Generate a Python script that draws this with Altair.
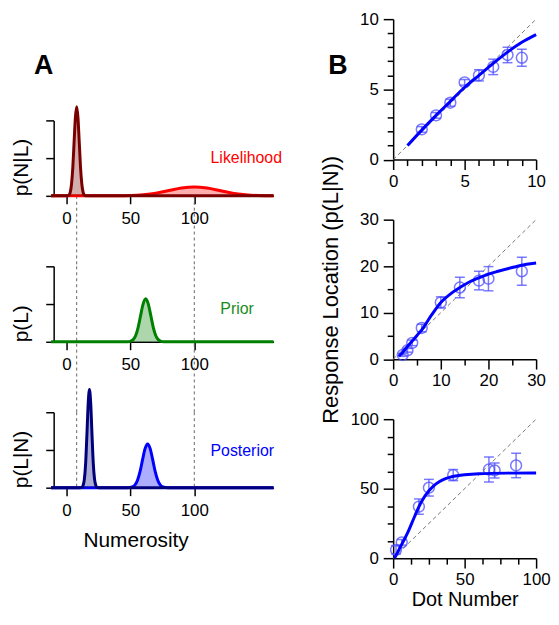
import altair as alt
import pandas as pd

FONT = "Liberation Sans"

# ---------------- Panel A : distributions ----------------
likN_x = [-12, 1, 2, 3, 4, 5, 6, 7, 8, 9, 10, 11, 12, 13, 14, 15, 162]
likN_y = [0, 0, 0.01, 0.05, 0.16, 0.38, 0.72, 1.04, 1.18, 1.04, 0.72, 0.38, 0.16, 0.05, 0.01, 0, 0]

likW_x = [-12, 40, 50, 60, 70, 80, 90, 100, 110, 120, 130, 140, 150, 162]
likW_y = [0, 0, 0.004, 0.015, 0.035, 0.07, 0.104, 0.118, 0.104, 0.07, 0.035, 0.015, 0.004, 0]

prior_x = [-12, 46, 48, 50, 52, 54, 56, 58, 60, 62, 64, 66, 68, 70, 72, 74, 76, 78, 162]
prior_y = [0, 0, 0.001, 0.006, 0.025, 0.077, 0.185, 0.346, 0.503, 0.57, 0.503, 0.346, 0.185, 0.077, 0.025, 0.006, 0.001, 0, 0]

postN_x = [-12, 11, 12, 13, 14, 15, 16, 17, 18, 19, 20, 21, 22, 23, 24, 25, 162]
postN_y = [0, 0, 0.003, 0.03, 0.11, 0.32, 0.70, 1.11, 1.3, 1.11, 0.70, 0.32, 0.11, 0.03, 0.003, 0, 0]

postW_x = [-12, 47.5, 49.5, 51.5, 53.5, 55.5, 57.5, 59.5, 61.5, 63.5, 65.5, 67.5, 69.5, 71.5, 73.5, 75.5, 77.5, 79.5, 162]
postW_y = [0, 0, 0.002, 0.01, 0.034, 0.095, 0.209, 0.368, 0.518, 0.58, 0.518, 0.368, 0.209, 0.095, 0.034, 0.01, 0.002, 0, 0]

guide_x = [8, 100]
numerosity_ticks = [0, 50, 100]
panel_labels = ["Likelihood", "Prior", "Posterior"]
label_pos_x = [112.7, 120.4, 112.7]
label_pos_y = [0.5, 0.43, 0.48]

# ---------------- Panel B : data with error bars + fits ----------------
b1_x = [2, 3, 4, 5, 6, 7, 8, 9]
b1_y = [2.15, 3.15, 4.05, 5.5, 6.0, 6.6, 7.45, 7.25]
b1_e = [0.2, 0.2, 0.25, 0.2, 0.4, 0.55, 0.55, 0.6]
b1_fx = [1, 2, 3, 4, 5, 6, 7, 8, 9, 10]
b1_fy = [1.0, 2.1, 3.15, 4.15, 5.15, 6.0, 6.85, 7.65, 8.35, 8.9]

b2_x = [2, 3, 4, 6, 10, 14, 18, 20, 27]
b2_y = [0.9, 1.9, 3.5, 6.7, 12.2, 15.4, 16.9, 17.3, 18.9]
b2_e = [0.3, 0.4, 0.6, 0.8, 1.2, 2.2, 2.0, 2.6, 3.0]
b2_fx = [1.2, 2, 3, 4, 5, 6, 8, 10, 12, 14, 16, 18, 20, 22, 25, 28, 30]
b2_fy = [0.6, 1.5, 2.7, 3.9, 5.1, 6.3, 9.4, 12.2, 14.0, 15.4, 16.6, 17.5, 18.3, 18.9, 19.7, 20.4, 20.7]

b3_x = [2, 6, 18, 25, 42, 67, 71, 86]
b3_y = [6, 11.4, 37.1, 50.7, 59.8, 63.8, 63.1, 66.7]
b3_e = [3, 2, 5.5, 6, 4, 9, 5.4, 8.8]
b3_fx = [1, 5, 10, 15, 18, 20, 25, 30, 35, 40, 50, 60, 80, 100]
b3_fy = [0, 8, 18, 30, 37, 41, 48.5, 53.5, 56.5, 58.3, 60.0, 60.8, 61.2, 61.3]

# ---------------- layout numbers ----------------
LW, LH = 221.5, 76
LGAP = 71
RW = 144

AX = dict(domainColor="black", domainWidth=1.5, tickColor="black", tickWidth=1.5,
          labelColor="black", labelFont=FONT, labelFontSize=17, titleFont=FONT,
          titleFontWeight="normal", titleColor="black",
          grid=False, labelFlush=False, labelOverlap=False)


def left_x(title):
    return alt.X("x:Q", scale=alt.Scale(domain=[-10, 162], nice=False, zero=False),
                 axis=alt.Axis(values=numerosity_ticks, tickSize=8, labelPadding=7,
                               title=title, titleX=82.5, titlePadding=11, titleFontSize=21, **AX))


def left_y(title):
    return alt.Y("y:Q", scale=alt.Scale(domain=[0, 1], nice=False),
                 axis=alt.Axis(values=[0, 0.5, 1], tickSize=8, labels=False,
                               title=title, titleAnchor="start", titlePadding=14,
                               titleFontSize=21, **AX))


def dist(xs, ys, color, xt, yt):
    df = pd.DataFrame({"x": xs, "y": ys})
    base = alt.Chart(df)
    area = base.mark_area(color=color, opacity=0.32, interpolate="monotone").encode(
        x=left_x(xt), y=left_y(yt))
    line = base.mark_line(color=color, strokeWidth=3, interpolate="monotone").encode(
        x=left_x(xt), y=left_y(yt))
    return [area, line]


def guides(y_top, y_bot, xt, yt):
    df = pd.DataFrame({"x": guide_x, "y": [y_top] * 2, "y2": [y_bot] * 2})
    return alt.Chart(df).mark_rule(color="#666666", strokeDash=[3, 3], strokeWidth=1).encode(
        x=left_x(xt), y=left_y(yt), y2="y2:Q")


def label(i, color, xt, yt):
    df = pd.DataFrame({"x": [label_pos_x[i]], "y": [label_pos_y[i]], "t": [panel_labels[i]]})
    return alt.Chart(df).mark_text(color=color, font=FONT, fontSize=16, align="left").encode(
        x=left_x(xt), y=left_y(yt), text="t:N")


gap_units = LGAP / LH

a_df = pd.DataFrame({"t": ["A"]})
a_text = alt.Chart(a_df).mark_text(font=FONT, fontSize=27, fontWeight="bold").encode(
    text="t:N", x=alt.value(-10), y=alt.value(-54.5))

lt = alt.layer(
    guides(0, -gap_units, None, "p(N|L)"),
    *dist(likW_x, likW_y, "#ff0000", None, "p(N|L)"),
    *dist(likN_x, likN_y, "#7a0000", None, "p(N|L)"),
    label(0, "#ff0000", None, "p(N|L)"),
    a_text,
).properties(width=LW, height=LH)

lm = alt.layer(
    guides(1, -gap_units, None, "p(L)"),
    *dist(prior_x, prior_y, "#008000", None, "p(L)"),
    label(1, "#1a8c1a", None, "p(L)"),
).properties(width=LW, height=LH)

lb = alt.layer(
    guides(1, 0, "Numerosity", "p(L|N)"),
    *dist(postW_x, postW_y, "#0000ff", "Numerosity", "p(L|N)"),
    *dist(postN_x, postN_y, "#00007a", "Numerosity", "p(L|N)"),
    label(2, "#0000ff", "Numerosity", "p(L|N)"),
).properties(width=LW, height=LH)

spacer = alt.Chart(pd.DataFrame({"v": [0.5]})).mark_point(opacity=0, size=1).encode(
    x=alt.X("v:Q", axis=None, scale=alt.Scale(domain=[0, 1])),
    y=alt.Y("v:Q", axis=None, scale=alt.Scale(domain=[0, 1]))).properties(width=LW, height=31)

left = alt.vconcat(spacer, lt, lm, lb, spacing=LGAP, bounds="flush")


# ---------------- right panels ----------------
def right_panel(xs, ys, es, fx, fy, vmax, step, major, h, xtitle=None, ytitle=None, b=False):
    ticks = []
    v = 0.0
    while v <= vmax + 1e-9:
        ticks.append(round(v, 3))
        v += step
    test = "abs(datum.value / %s - round(datum.value / %s)) < 0.001" % (major, major)
    common = dict(values=ticks, labelExpr="%s ? datum.label : ''" % test,
                  tickSize={"condition": {"test": test, "value": 10}, "value": 6}, **AX)
    sx = alt.Scale(domain=[0, vmax], nice=False)
    X = alt.X("x:Q", scale=sx, axis=alt.Axis(title=xtitle, titlePadding=2, titleFontSize=20,
                                             labelPadding=4, **common))
    yax = alt.Axis(title=ytitle, titlePadding=17, titleFontSize=22, labelPadding=5, **common)
    Y = alt.Y("y:Q", scale=sx, axis=yax)
    pts = pd.DataFrame({"x": xs, "y": ys,
                        "lo": [a - e for a, e in zip(ys, es)],
                        "hi": [a + e for a, e in zip(ys, es)]})
    fit = pd.DataFrame({"x": fx, "y": fy})
    ident = pd.DataFrame({"x": [0, vmax], "y": [0, vmax]})
    col = "#4d4dff"
    layers = [
        alt.Chart(ident).mark_line(color="#777777", strokeDash=[4, 3], strokeWidth=1).encode(x=X, y=Y),
        alt.Chart(pts).mark_rule(color=col, strokeWidth=1.5, opacity=0.75).encode(
            x=X, y=alt.Y("lo:Q", scale=sx, axis=yax), y2="hi:Q"),
        alt.Chart(pts).mark_tick(color=col, orient="horizontal", size=10, thickness=1.5, opacity=0.75).encode(
            x=X, y=alt.Y("lo:Q", scale=sx, axis=yax)),
        alt.Chart(pts).mark_tick(color=col, orient="horizontal", size=10, thickness=1.5, opacity=0.75).encode(
            x=X, y=alt.Y("hi:Q", scale=sx, axis=yax)),
        alt.Chart(pts).mark_point(shape="circle", filled=False, size=120, strokeWidth=1.5, color=col, opacity=0.75).encode(x=X, y=Y),
        alt.Chart(fit).mark_line(color="#0000ff", strokeWidth=3, interpolate="monotone").encode(x=X, y=Y),
    ]
    if b:
        layers.append(alt.Chart(pd.DataFrame({"t": ["B"]})).mark_text(font=FONT, fontSize=27, fontWeight="bold").encode(
            text="t:N", x=alt.value(-55.7), y=alt.value(47.7)))
    return alt.layer(*layers).properties(width=RW, height=h)


rt = right_panel(b1_x, b1_y, b1_e, b1_fx, b1_fy, 10, 1, 5, 141.5, b=True)
rm = right_panel(b2_x, b2_y, b2_e, b2_fx, b2_fy, 30, 5, 10, 140.5, ytitle="Response Location (p(L|N))")
rb = right_panel(b3_x, b3_y, b3_e, b3_fx, b3_fy, 100, 12.5, 50, 140, xtitle="Dot Number")

right = alt.vconcat(rt, rm, rb, spacing=60, bounds="flush")

chart = alt.hconcat(left, right, spacing=37).properties(
    padding={"left": 2, "top": 0, "right": 0, "bottom": 0}
).configure(font=FONT).configure_view(stroke="transparent", strokeWidth=0)

chart.save("out.html", embed_options={"renderer": "svg", "actions": False})
